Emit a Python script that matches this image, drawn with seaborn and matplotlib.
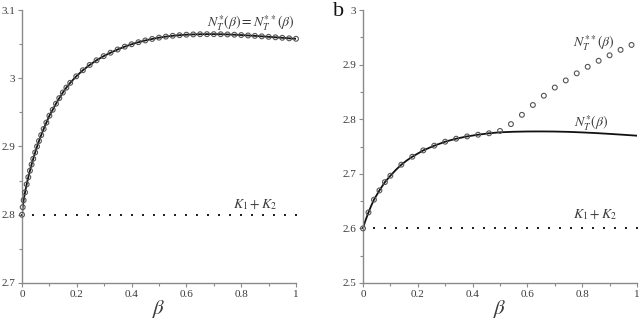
import numpy as np
import pandas as pd
import matplotlib
matplotlib.use("Agg")
import matplotlib.pyplot as plt
import seaborn as sns
from matplotlib.ticker import MultipleLocator, FuncFormatter

# panel a: N_T^*(beta) = N_T^**(beta), adaptive sample points
beta_a = [0, 0.0026, 0.006, 0.011, 0.017, 0.023, 0.029, 0.035, 0.041, 0.048,
          0.055, 0.062, 0.070, 0.079, 0.089, 0.100, 0.112, 0.124, 0.136, 0.149,
          0.162, 0.176, 0.198, 0.222, 0.247, 0.272, 0.298, 0.323, 0.349, 0.375,
          0.4, 0.425, 0.45, 0.475, 0.5, 0.525, 0.55, 0.575, 0.6, 0.625,
          0.65, 0.675, 0.7, 0.725, 0.75, 0.775, 0.8, 0.825, 0.85, 0.875,
          0.9, 0.925, 0.95, 0.975, 1.0]
n_a = [2.8, 2.8111, 2.8213, 2.8328, 2.8445, 2.855, 2.8646, 2.8736, 2.882, 2.8913,
       2.9001, 2.9081, 2.9167, 2.9257, 2.935, 2.9451, 2.9538, 2.9627, 2.9709, 2.979,
       2.9863, 2.9933, 3.0028, 3.0117, 3.0195, 3.0263, 3.0324, 3.0374, 3.0421, 3.0463,
       3.0498, 3.0528, 3.0554, 3.0576, 3.0595, 3.061, 3.0622, 3.0631, 3.0638, 3.0642,
       3.0645, 3.0646, 3.0646, 3.0645, 3.0642, 3.0638, 3.0633, 3.0627, 3.0621, 3.0614,
       3.0607, 3.06, 3.0593, 3.0585, 3.0578]
k_a = 2.8

# panel b: N_T^*(beta) curve and N_T^**(beta) points
beta_b_line = [0, 0.005, 0.01, 0.02, 0.03, 0.04, 0.06, 0.08, 0.1, 0.12, 0.14, 0.16,
               0.18, 0.22, 0.26, 0.3, 0.34, 0.38, 0.42, 0.46, 0.5, 0.55, 0.6, 0.65,
               0.7, 0.75, 0.8, 0.85, 0.9, 0.95, 1.0]
n_star_b = [2.6, 2.6085, 2.6158, 2.6293, 2.6415, 2.6526, 2.6696, 2.6848, 2.6965,
            2.7072, 2.7167, 2.7245, 2.7313, 2.7429, 2.7515, 2.7588, 2.7643, 2.7685,
            2.7716, 2.7742, 2.776, 2.777, 2.7775, 2.7776, 2.7774, 2.7768, 2.7758,
            2.7746, 2.7731, 2.7715, 2.7698]
beta_b_pts = [0, 0.02, 0.04, 0.06, 0.08, 0.1, 0.14, 0.18, 0.22, 0.26, 0.30, 0.34,
              0.38, 0.42, 0.46, 0.50, 0.54, 0.58, 0.62, 0.66, 0.70, 0.74, 0.78,
              0.82, 0.86, 0.90, 0.94, 0.98]
n_2star_b = [2.6, 2.6293, 2.6526, 2.6696, 2.6848, 2.6965, 2.7167, 2.7313, 2.7429,
             2.7515, 2.7588, 2.7643, 2.7685, 2.7716, 2.7742, 2.7785, 2.791, 2.808,
             2.826, 2.843, 2.858, 2.871, 2.884, 2.896, 2.907, 2.917, 2.927, 2.936]
k_b = 2.6

sns.set_style("ticks")
plt.rcParams["font.family"] = "serif"
plt.rcParams["font.serif"] = ["Liberation Serif", "DejaVu Serif"]
plt.rcParams["mathtext.fontset"] = "stix"

fig = plt.figure(figsize=(6.4, 3.21), dpi=100)
ax1 = fig.add_axes([22 / 640, 38 / 321, 274 / 640, 273 / 321])
ax2 = fig.add_axes([363 / 640, 38 / 321, 274 / 640, 273 / 321])

axis_gray = "#8a8a8a"
text_gray = "#3a3a3a"


def style_axes(ax, ylim):
    ax.set_xlim(0, 1)
    ax.set_ylim(*ylim)
    for side in ["top", "right"]:
        ax.spines[side].set_visible(False)
    for side in ["left", "bottom"]:
        ax.spines[side].set_color(axis_gray)
        ax.spines[side].set_linewidth(1.0)
    ax.xaxis.set_major_locator(MultipleLocator(0.2))
    ax.xaxis.set_minor_locator(MultipleLocator(0.1))
    ax.yaxis.set_major_locator(MultipleLocator(0.1))
    ax.yaxis.set_minor_locator(MultipleLocator(0.05))
    ax.xaxis.set_major_formatter(FuncFormatter(lambda v, p: f"{v:g}"))
    ax.yaxis.set_major_formatter(FuncFormatter(lambda v, p: f"{round(v, 2):g}"))
    ax.tick_params(which="major", length=3, width=0.8, color=axis_gray,
                   labelsize=8, labelcolor=text_gray, pad=2)
    ax.tick_params(which="minor", length=2, width=0.8, color=axis_gray)


style_axes(ax1, (2.7, 3.1))
style_axes(ax2, (2.5, 3.0))

# K1 + K2 dotted level: a dot every 0.04 in beta (line style only)
dot_x = np.linspace(0, 1, 26)
for ax, k in ((ax1, k_a), (ax2, k_b)):
    ax.plot(dot_x, np.full_like(dot_x, k), linestyle="none", marker="s",
            markersize=1.6, markeredgewidth=0, color="#222222", zorder=1,
            clip_on=False)

# panel a
df_a = pd.DataFrame({"beta": beta_a, "N": n_a})
sns.lineplot(data=df_a, x="beta", y="N", ax=ax1, color="#111111", lw=1.3,
             estimator=None, sort=False, zorder=2)
sns.scatterplot(data=df_a, x="beta", y="N", ax=ax1, marker="o", s=12,
                facecolor="none", edgecolor="#555555", linewidth=0.8, zorder=3,
                clip_on=False)

# panel b
df_line = pd.DataFrame({"beta": beta_b_line, "N": n_star_b})
df_pts = pd.DataFrame({"beta": beta_b_pts, "N": n_2star_b})
sns.lineplot(data=df_line, x="beta", y="N", ax=ax2, color="#111111", lw=1.3,
             estimator=None, sort=False, zorder=2)
sns.scatterplot(data=df_pts, x="beta", y="N", ax=ax2, marker="o", s=12,
                facecolor="none", edgecolor="#555555", linewidth=0.8, zorder=3,
                clip_on=False)

for ax in (ax1, ax2):
    ax.set_xlabel(r"$\beta$", fontsize=15, color=text_gray, labelpad=-1)
    ax.set_ylabel("")

# annotations
ax1.text(0.997, 3.081, r"$N_T^{*}(\beta) = N_T^{**}(\beta)$", ha="right", va="center",
         fontsize=10, color=text_gray)
ax1.text(0.85, 2.814, r"$K_1 + K_2$", ha="center", va="center",
         fontsize=10, color=text_gray)
ax2.text(0.841, 2.939, r"$N_T^{**}(\beta)$", ha="center", va="center",
         fontsize=10, color=text_gray)
ax2.text(0.832, 2.792, r"$N_T^{*}(\beta)$", ha="center", va="center",
         fontsize=10, color=text_gray)
ax2.text(0.847, 2.6256, r"$K_1 + K_2$", ha="center", va="center",
         fontsize=10, color=text_gray)

fig.text(339 / 640, 1 - 12 / 321, "b", fontsize=16, ha="center", va="center",
         color="#111111")

fig.savefig("out.png", dpi=100)
